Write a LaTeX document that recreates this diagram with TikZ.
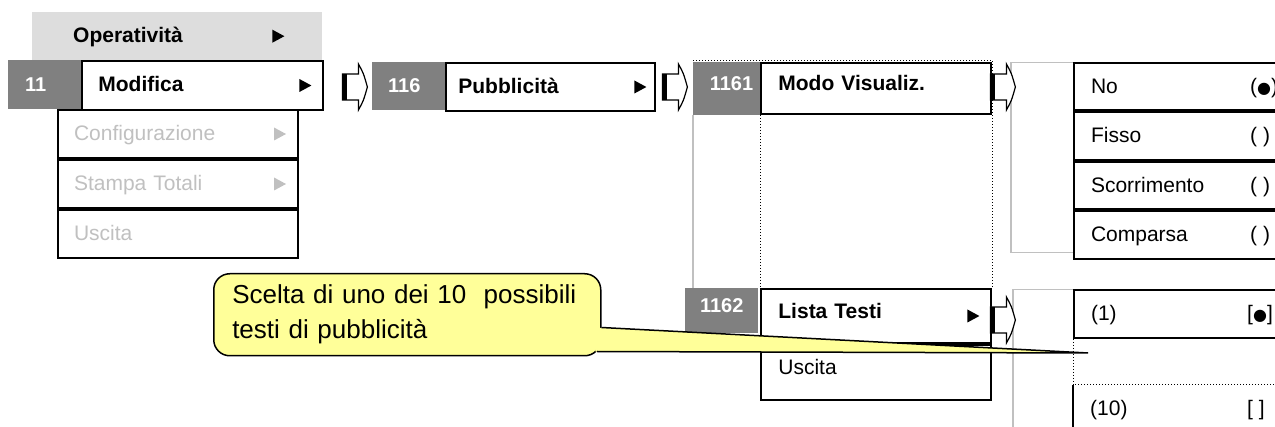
\documentclass[tikz,border=0pt]{standalone}
\usepackage{fontspec}
\setmainfont{Liberation Sans}
\newfontfamily\symfont{DejaVu Sans}
\usetikzlibrary{calc}

\definecolor{idgray}{HTML}{808080}
\definecolor{barfill}{HTML}{DDDDDD}
\definecolor{dimtext}{HTML}{C0C0C0}
\definecolor{notefill}{HTML}{FFFF99}

\begin{document}
\begin{tikzpicture}[
  x=1pt,y=-1pt,
  plaintxt/.style={font=\fontsize{21}{25}\selectfont},
  boldtxt/.style={font=\fontsize{21}{25}\selectfont\bfseries},
  menubox/.style={plaintxt,anchor=north west,inner ysep=0pt,text height=15pt,text depth=2pt,align=left},
  item/.style={menubox,draw,line width=2pt,fill=white},
  idbox/.style={menubox,fill=idgray,text=white,font=\fontsize{20}{24}\selectfont\bfseries},
  val/.style={plaintxt,anchor=west,inner sep=0pt,text height=15pt,text depth=2pt},
  frame/.style={draw=dimtext,line width=1.5pt,anchor=north west},
  note/.style={anchor=north west,draw,fill=notefill,line width=1.5pt,rounded corners=16pt,
    minimum height=82pt,inner xsep=18.5pt,text width=350pt,align=left,font=\fontsize{26}{35}\selectfont},
  menutri/.pic={\fill (0,-6.5) -- (12,0) -- (0,6.5) -- cycle;},
  blockarrow/.pic={
    \draw[line width=1.2pt,fill=white] (0,-13) -- (16,-13) -- (16,-23) .. controls (21,-14) .. (25,0)
      .. controls (21,14) .. (16,23) -- (16,13) -- (0,13) -- cycle;
    \fill (0,-13) rectangle (5,13);},
]
\useasboundingbox (0,0) rectangle (1275,427);
\clip (0,0) rectangle (1275,427);

% main menu
\node[menubox,boldtxt,fill=barfill,minimum height=48pt,inner xsep=41pt,text width=208pt] (ope) at (32,12) {Operatività};
\node[idbox,minimum height=49pt,inner xsep=17pt,text width=39pt] (n11) at (8,60) {11};
\node[item,boldtxt,minimum height=49pt,inner xsep=16pt,text width=209pt] (mod) at (n11.north east) {Modifica};
\node[item,text=dimtext,minimum height=48pt,inner xsep=16pt,text width=208pt] (conf) at (57,109) {Configurazione};
\node[item,text=dimtext,minimum height=48pt,inner xsep=16pt,text width=208pt] (stam) at (conf.south west) {Stampa Totali};
\node[item,text=dimtext,minimum height=48pt,inner xsep=16pt,text width=208pt] (usc1) at (stam.south west) {Uscita};
\pic at ($(ope.east)+(-50,0)$) {menutri};
\pic at ($(mod.east)+(-25,0)$) {menutri};
\foreach \n in {conf,stam} \pic[dimtext] at ($(\n.east)+(-25,0)$) {menutri};

% 116
\node[idbox,minimum height=48pt,inner xsep=16pt,text width=41pt] (n116) at (372,62) {116};
\node[item,boldtxt,minimum height=48pt,inner xsep=12pt,text width=185pt] (pub) at (n116.north east) {Pubblicità};
\pic at ($(pub.east)+(-22,0)$) {menutri};

% 1161 / 1162
\node[idbox,minimum height=53pt,inner xsep=7pt,text width=53pt,align=right,text depth=12pt] (n1161) at (693,62) {1161};
\node[item,boldtxt,minimum height=51pt,inner xsep=17pt,text width=196pt,text depth=10pt] (mv) at (n1161.north east) {Modo Visualiz.};
\node[idbox,minimum height=45pt,inner xsep=0pt,text width=73pt,align=center,text depth=12pt] (n1162) at (685,288) {1162};
\node[item,boldtxt,minimum height=54pt,inner xsep=17pt,text width=196pt,text depth=9pt] (lt) at (mv.south west |- n1162.north) {Lista Testi};
\node[item,minimum height=55pt,inner xsep=17pt,text width=196pt,text depth=11pt] (usc2) at (lt.south west) {Uscita};
\pic at ($(lt.east)+(-25,0)$) {menutri};
\draw[draw=dimtext,line width=1.5pt] (n1161.south west) -- (n1161.south west |- lt.north);
\draw[dotted,line width=1pt] (mv.south west) -- (lt.north west);
\draw[dotted,line width=1pt] ($(n1161.north west)+(0,-1.5)$) -- ($(mv.north east)+(0,-1.5)$) -- (lt.north east);

% display mode choices
\node[frame,minimum width=290pt,minimum height=190pt] (pan1) at (1010,62) {};
\node[item,minimum height=47.5pt,inner xsep=17pt,text width=183pt] (no) at (1073,62) {No};
\node[item,minimum height=47.5pt,inner xsep=17pt,text width=183pt] (fis) at (no.south west) {Fisso};
\node[item,minimum height=47.5pt,inner xsep=17pt,text width=183pt] (scor) at (fis.south west) {Scorrimento};
\node[item,minimum height=47.5pt,inner xsep=17pt,text width=183pt] (comp) at (scor.south west) {Comparsa};
\node[val] (vno) at ($(no.west)+(177,0)$) {({\symfont\fontsize{16}{18}\selectfont ●})};
\node[val] (vfis) at ($(fis.west)+(177,0)$) {(\ )};
\node[val] (vscor) at ($(scor.west)+(177,0)$) {(\ )};
\node[val] (vcomp) at ($(comp.west)+(177,0)$) {(\ )};

% text list
\node[frame,minimum width=290pt,minimum height=160pt] (pan2) at (1012,289) {};
\node[item,minimum height=48pt,inner xsep=17pt,text width=183pt] (l1) at (1073,289) {(1)};
\node[menubox,minimum height=48pt,inner xsep=17pt,text width=183pt] (l10) at (1073,385) {(10)};
\node[val] (vl1) at ($(l1.west)+(174,0)$) {[{\symfont\fontsize{16}{18}\selectfont ●}]};
\node[val] (vl10) at ($(l10.west)+(174,0)$) {[\ ]};
\draw[line width=2pt] (l10.north west) -- (l10.south west);
\draw[dotted,line width=1pt] (l1.south west) -- (l10.north west) -- (l10.north east);

% arrows between menus
\pic at ($(mod.east)+(18,1.5)$) {blockarrow};
\pic at ($(pub.east)+(6,0)$) {blockarrow};
\pic at ($(mv.east)+(-2,-1.5)$) {blockarrow};
\pic at ($(lt.east)+(-2,4)$) {blockarrow};

% callout
\node[note] (note) at (213,273) {Scelta di uno dei 10\ \ possibili\\testi di pubblicità};
\coordinate (tip) at (1088,353);
\fill[notefill] ($(note.south east)+(-8,-29)$) -- (tip) -- ($(note.south east)+(-6,-5)$) -- cycle;
\draw[line width=1.5pt] ($(note.south east)+(0,-29)$) -- (tip) -- ($(note.south east)+(-4.5,-5)$);
\end{tikzpicture}
\end{document}
